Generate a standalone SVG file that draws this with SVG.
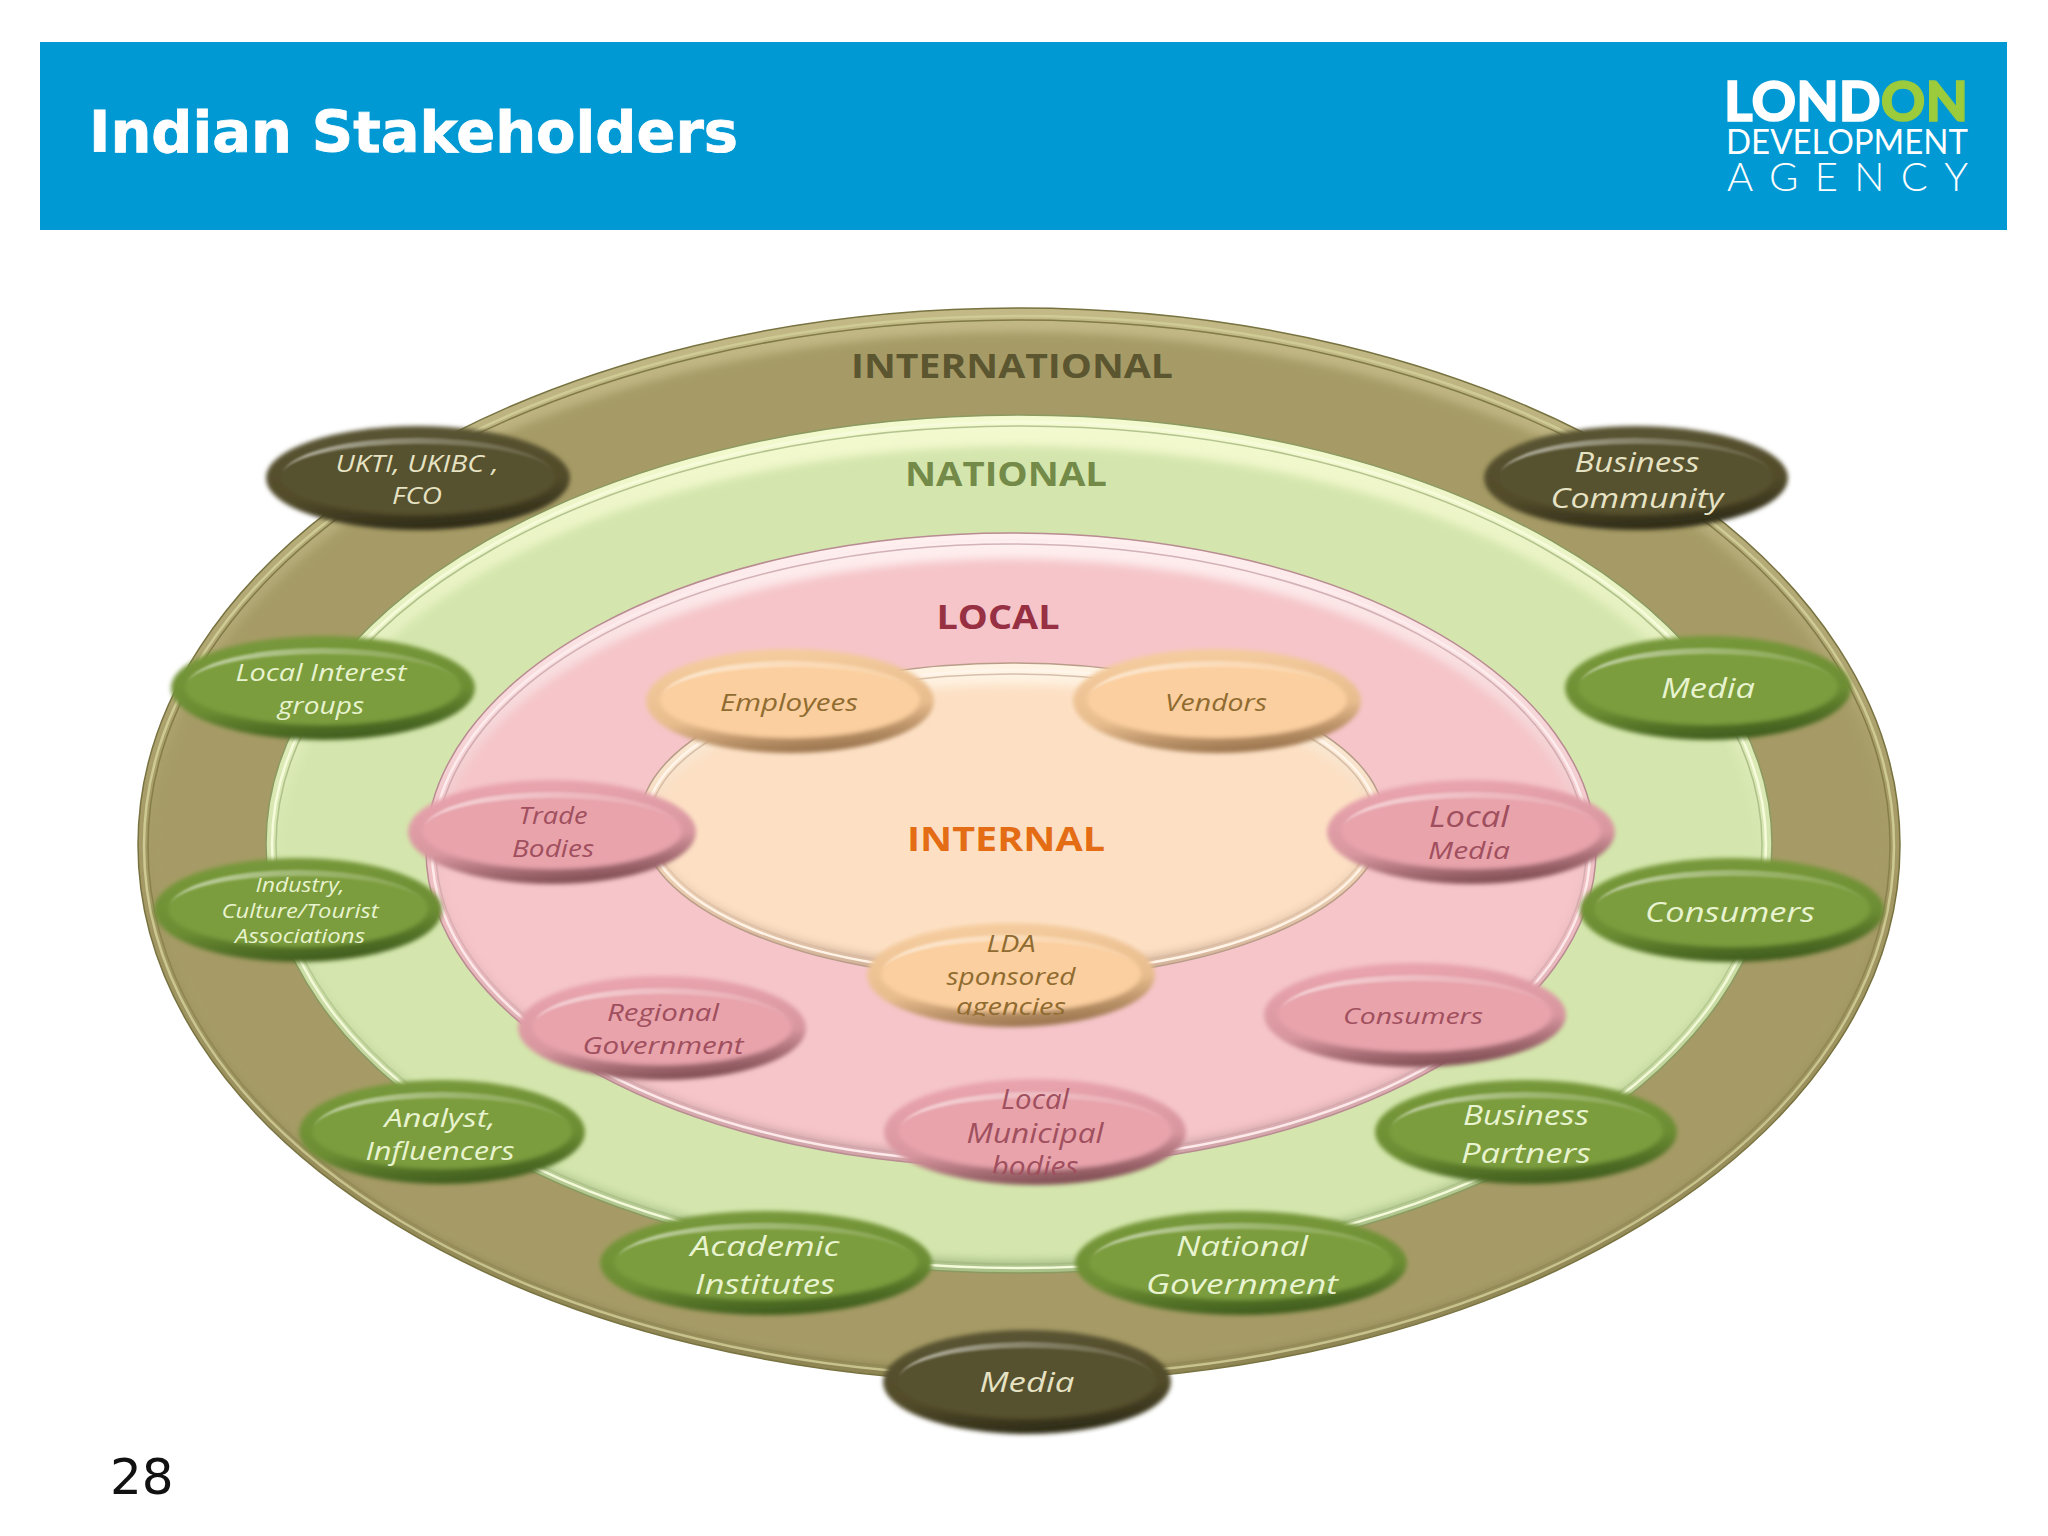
<svg xmlns="http://www.w3.org/2000/svg" width="2048" height="1536" viewBox="0 0 2048 1536">
<style>
.logo{font-family:"Lato","Liberation Sans",sans-serif;fill:#fff}
.ring{font-family:"Open Sans","Liberation Sans",sans-serif;font-weight:700;text-anchor:middle}
.n{font-family:"Open Sans","Lato",sans-serif;font-style:italic;text-anchor:middle}
.nd{fill:#e6e2c4}.ng{fill:#e8f3cf}.np{fill:#a04f5e}.no{fill:#8f6b30}
.fd{fill:#57512f}.fg{fill:#7b9d3e}.fp{fill:#e8a3ab}.fo{fill:#fbcf9f}
.rd{fill:url(#rimD)}.rg{fill:url(#rimG)}.rp{fill:url(#rimP)}.ro{fill:url(#rimO)}
.hl{fill:url(#hlW);filter:url(#soft1)}
.s{filter:url(#soft)}
.line{fill:none}
</style>
<defs>
<filter id="soft" x="-5%" y="-10%" width="110%" height="120%"><feGaussianBlur stdDeviation="2"/></filter>
<filter id="soft1" x="-5%" y="-30%" width="110%" height="160%"><feGaussianBlur stdDeviation="1"/></filter>
<filter id="softR" x="-3%" y="-5%" width="106%" height="110%"><feGaussianBlur stdDeviation="4"/></filter>
<linearGradient id="hlW" gradientUnits="userSpaceOnUse" x1="-130" y1="0" x2="130" y2="0"><stop offset="0" stop-color="#fff" stop-opacity=".55"/><stop offset=".5" stop-color="#fff" stop-opacity=".28"/><stop offset="1" stop-color="#fff" stop-opacity=".08"/></linearGradient>
<linearGradient id="rimD" x1=".35" y1="0" x2=".6" y2="1"><stop offset="0" stop-color="#5a5432"/><stop offset=".62" stop-color="#514b2a"/><stop offset="1" stop-color="#2c2916"/></linearGradient>
<linearGradient id="rimG" x1=".35" y1="0" x2=".6" y2="1"><stop offset="0" stop-color="#78993b"/><stop offset=".62" stop-color="#6c8d33"/><stop offset="1" stop-color="#3d5a1c"/></linearGradient>
<linearGradient id="rimP" x1=".35" y1="0" x2=".6" y2="1"><stop offset="0" stop-color="#eaa5af"/><stop offset=".62" stop-color="#d8969f"/><stop offset="1" stop-color="#7c4a50"/></linearGradient>
<linearGradient id="rimO" x1=".35" y1="0" x2=".6" y2="1"><stop offset="0" stop-color="#f6cd9f"/><stop offset=".62" stop-color="#e8bd8e"/><stop offset="1" stop-color="#96704a"/></linearGradient>
<linearGradient id="rI" x1="0" y1="0" x2="0" y2="1"><stop offset="0" stop-color="#c2b987"/><stop offset=".5" stop-color="#a69b66"/><stop offset="1" stop-color="#8d8453"/></linearGradient>
<linearGradient id="rN" x1="0" y1="0" x2="0" y2="1"><stop offset="0" stop-color="#f4facf"/><stop offset=".6" stop-color="#d0e2aa"/><stop offset="1" stop-color="#aac18a"/></linearGradient>
<linearGradient id="rL" x1="0" y1="0" x2="0" y2="1"><stop offset="0" stop-color="#fff0f0"/><stop offset=".6" stop-color="#edbcc0"/><stop offset="1" stop-color="#d0a4a8"/></linearGradient>
<linearGradient id="rT" x1="0" y1="0" x2="0" y2="1"><stop offset="0" stop-color="#fff4e4"/><stop offset=".6" stop-color="#f3d6b8"/><stop offset="1" stop-color="#d0b098"/></linearGradient>
<path id="hlp" d="M-128,-6 A129 39 0 0 1 128,-6 A129 32 0 0 0 -128,-6Z"/>
<clipPath id="clipLDA"><ellipse cx="0" cy="-2" rx="140" ry="44"/></clipPath>
<clipPath id="clipLMB"><ellipse cx="0" cy="-2" rx="147" ry="45"/></clipPath>
</defs>
<rect width="2048" height="1536" fill="#fff"/>
<g id="header">
<rect x="40" y="42" width="1967" height="188" fill="#0099d3"/>
<text x="89" y="152" font-family="'DejaVu Sans','Liberation Sans',sans-serif" font-weight="700" font-size="57" fill="#fff" stroke="#fff" stroke-width=".8" textLength="649" lengthAdjust="spacingAndGlyphs">Indian Stakeholders</text>
</g>
<g id="logo">
<text class="logo" x="1724" y="121" font-size="56" font-weight="900" stroke="#fff" stroke-width="1.4" textLength="244" lengthAdjust="spacingAndGlyphs">LOND<tspan style="fill:#9ccb3b;stroke:#9ccb3b">ON</tspan></text>
<text class="logo" x="1726" y="154" font-size="35" textLength="242" lengthAdjust="spacingAndGlyphs">DEVELOPMENT</text>
<text class="logo" x="1727" y="191" font-size="40" font-weight="300" textLength="241">AGENCY</text>
</g>
<g id="rings">
<g id="ring-international">
<ellipse cx="1019" cy="845" rx="881" ry="537" fill="url(#rI)" stroke="#77723f" stroke-width="1.5"/>
<ellipse class="line" cx="1019" cy="846" rx="875" ry="530" stroke="#cfcb95" stroke-width="2.5"/>
<ellipse class="line" cx="1019" cy="846" rx="871" ry="526" stroke="#807a46" stroke-width="1.5"/>
<ellipse cx="1019" cy="852" rx="867" ry="520" fill="#a69b66" filter="url(#softR)"/>
<text class="ring" x="1012" y="378" font-size="34" fill="#5b5530" textLength="322" lengthAdjust="spacingAndGlyphs">INTERNATIONAL</text>
</g>
<g id="ring-national">
<ellipse cx="1019" cy="844" rx="753" ry="429" fill="url(#rN)" stroke="#8b9a60" stroke-width="1.5"/>
<ellipse class="line" cx="1019" cy="845" rx="747" ry="423" stroke="#f6fbdc" stroke-width="2.5"/>
<ellipse class="line" cx="1019" cy="845" rx="743" ry="419" stroke="#9aad76" stroke-width="1.5" opacity=".7"/>
<ellipse cx="1019" cy="853" rx="738" ry="407" fill="#d4e6ad" filter="url(#softR)"/>
<text class="ring" x="1006" y="486" font-size="34" fill="#738a48" textLength="202" lengthAdjust="spacingAndGlyphs">NATIONAL</text>
</g>
<g id="ring-local">
<ellipse cx="1011" cy="850" rx="585" ry="317" fill="url(#rL)" stroke="#b98b92" stroke-width="1.5"/>
<ellipse class="line" cx="1011" cy="851" rx="579" ry="311" stroke="#fdeced" stroke-width="2.5"/>
<ellipse class="line" cx="1011" cy="851" rx="575" ry="307" stroke="#c09aa0" stroke-width="1.5" opacity=".7"/>
<ellipse cx="1011" cy="857" rx="571" ry="298" fill="#f5c5c9" filter="url(#softR)"/>
<text class="ring" x="998" y="629" font-size="34" fill="#963042" textLength="123" lengthAdjust="spacingAndGlyphs">LOCAL</text>
</g>
<g id="ring-internal">
<ellipse cx="1012" cy="821" rx="372" ry="158" fill="url(#rT)" stroke="#b99c88" stroke-width="1.5"/>
<ellipse class="line" cx="1012" cy="822" rx="366" ry="152" stroke="#fff5ea" stroke-width="2.5"/>
<ellipse class="line" cx="1012" cy="822" rx="362" ry="148" stroke="#c4aa96" stroke-width="1.5" opacity=".7"/>
<ellipse cx="1012" cy="826" rx="358" ry="141" fill="#fde0c4" filter="url(#softR)"/>
<text class="ring" x="1006" y="851" font-size="34" fill="#e36c14" textLength="198" lengthAdjust="spacingAndGlyphs">INTERNAL</text>
</g>
</g>
<g id="connectors"></g>
<g id="n-ukti" transform="translate(418,478)"><g class="s"><ellipse class="rd" rx="152" ry="52"/><ellipse class="fd" cy="-1" rx="138" ry="38"/></g><use href="#hlp" class="hl" transform="scale(1.06,1)"/>
<text class="n nd" x="-1" y="-6" font-size="23" textLength="163" lengthAdjust="spacingAndGlyphs">UKTI, UKIBC ,</text><text class="n nd" x="-1" y="26" font-size="23" textLength="50" lengthAdjust="spacingAndGlyphs">FCO</text></g>
<g id="n-business-community" transform="translate(1636,478)"><g class="s"><ellipse class="rd" rx="152" ry="52"/><ellipse class="fd" cy="-1" rx="138" ry="38"/></g><use href="#hlp" class="hl" transform="scale(1.06,1)"/>
<text class="n nd" x="1" y="-6" font-size="27" textLength="125" lengthAdjust="spacingAndGlyphs">Business</text><text class="n nd" x="1" y="30" font-size="27" textLength="173" lengthAdjust="spacingAndGlyphs">Community</text></g>
<g id="n-local-interest" transform="translate(323,688)"><g class="s"><ellipse class="rg" rx="152" ry="52"/><ellipse class="fg" cy="-1" rx="138" ry="38"/></g><use href="#hlp" class="hl" transform="scale(1.06,1)"/>
<text class="n ng" x="-2" y="-7" font-size="24" textLength="171" lengthAdjust="spacingAndGlyphs">Local Interest</text><text class="n ng" x="-2" y="26" font-size="24" textLength="86" lengthAdjust="spacingAndGlyphs">groups</text></g>
<g id="n-media-green" transform="translate(1708,688)"><g class="s"><ellipse class="rg" rx="143" ry="52"/><ellipse class="fg" cy="-1" rx="130" ry="38"/></g><use href="#hlp" class="hl"/>
<text class="n ng" x="0" y="10" font-size="28" textLength="94" lengthAdjust="spacingAndGlyphs">Media</text></g>
<g id="n-industry" transform="translate(298,910)"><g class="s"><ellipse class="rg" rx="144" ry="52"/><ellipse class="fg" cy="-1" rx="130" ry="38"/></g><use href="#hlp" class="hl"/>
<text class="n ng" x="2" y="-18" font-size="20" textLength="89" lengthAdjust="spacingAndGlyphs">Industry,</text><text class="n ng" x="2" y="8" font-size="20" textLength="157" lengthAdjust="spacingAndGlyphs">Culture/Tourist</text><text class="n ng" x="2" y="33" font-size="20" textLength="130" lengthAdjust="spacingAndGlyphs">Associations</text></g>
<g id="n-consumers-green" transform="translate(1732,910)"><g class="s"><ellipse class="rg" rx="152" ry="52"/><ellipse class="fg" cy="-1" rx="138" ry="38"/></g><use href="#hlp" class="hl" transform="scale(1.06,1)"/>
<text class="n ng" x="-2" y="12" font-size="27" textLength="170" lengthAdjust="spacingAndGlyphs">Consumers</text></g>
<g id="n-analyst" transform="translate(442,1132)"><g class="s"><ellipse class="rg" rx="143" ry="52"/><ellipse class="fg" cy="-1" rx="130" ry="38"/></g><use href="#hlp" class="hl"/>
<text class="n ng" x="-2" y="-5" font-size="25" textLength="111" lengthAdjust="spacingAndGlyphs">Analyst,</text><text class="n ng" x="-2" y="28" font-size="25" textLength="149" lengthAdjust="spacingAndGlyphs">Influencers</text></g>
<g id="n-business-partners" transform="translate(1526,1132)"><g class="s"><ellipse class="rg" rx="151" ry="52"/><ellipse class="fg" cy="-1" rx="137" ry="38"/></g><use href="#hlp" class="hl" transform="scale(1.05,1)"/>
<text class="n ng" x="0" y="-7" font-size="27" textLength="126" lengthAdjust="spacingAndGlyphs">Business</text><text class="n ng" x="0" y="31" font-size="27" textLength="130" lengthAdjust="spacingAndGlyphs">Partners</text></g>
<g id="n-academic" transform="translate(766,1263)"><g class="s"><ellipse class="rg" rx="166" ry="52"/><ellipse class="fg" cy="-1" rx="152" ry="38"/></g><use href="#hlp" class="hl" transform="scale(1.16,1)"/>
<text class="n ng" x="-1" y="-7" font-size="28" textLength="149" lengthAdjust="spacingAndGlyphs">Academic</text><text class="n ng" x="-1" y="31" font-size="28" textLength="140" lengthAdjust="spacingAndGlyphs">Institutes</text></g>
<g id="n-national-gov" transform="translate(1241,1263)"><g class="s"><ellipse class="rg" rx="166" ry="52"/><ellipse class="fg" cy="-1" rx="152" ry="38"/></g><use href="#hlp" class="hl" transform="scale(1.16,1)"/>
<text class="n ng" x="1" y="-7" font-size="28" textLength="132" lengthAdjust="spacingAndGlyphs">National</text><text class="n ng" x="1" y="31" font-size="28" textLength="192" lengthAdjust="spacingAndGlyphs">Government</text></g>
<g id="n-media-dark" transform="translate(1027,1382)"><g class="s"><ellipse class="rd" rx="144" ry="52"/><ellipse class="fd" cy="-1" rx="130" ry="38"/></g><use href="#hlp" class="hl"/>
<text class="n nd" x="0" y="10" font-size="27" textLength="95" lengthAdjust="spacingAndGlyphs">Media</text></g>
<g id="n-trade" transform="translate(552,832)"><g class="s"><ellipse class="rp" rx="144" ry="52"/><ellipse class="fp" cy="-1" rx="130" ry="38"/></g><use href="#hlp" class="hl"/>
<text class="n np" x="1" y="-8" font-size="24" textLength="69" lengthAdjust="spacingAndGlyphs">Trade</text><text class="n np" x="1" y="25" font-size="24" textLength="82" lengthAdjust="spacingAndGlyphs">Bodies</text></g>
<g id="n-local-media" transform="translate(1471,832)"><g class="s"><ellipse class="rp" rx="144" ry="52"/><ellipse class="fp" cy="-1" rx="130" ry="38"/></g><use href="#hlp" class="hl"/>
<text class="n np" x="-2" y="-5" font-size="29" textLength="80" lengthAdjust="spacingAndGlyphs">Local</text><text class="n np" x="-2" y="27" font-size="24" textLength="82" lengthAdjust="spacingAndGlyphs">Media</text></g>
<g id="n-employees" transform="translate(790,701)"><g class="s"><ellipse class="ro" rx="144" ry="52"/><ellipse class="fo" cy="-1" rx="130" ry="38"/></g><use href="#hlp" class="hl"/>
<text class="n no" x="-1" y="10" font-size="24" textLength="138" lengthAdjust="spacingAndGlyphs">Employees</text></g>
<g id="n-vendors" transform="translate(1217,701)"><g class="s"><ellipse class="ro" rx="144" ry="52"/><ellipse class="fo" cy="-1" rx="130" ry="38"/></g><use href="#hlp" class="hl"/>
<text class="n no" x="-1" y="10" font-size="24" textLength="102" lengthAdjust="spacingAndGlyphs">Vendors</text></g>
<g id="n-lda" transform="translate(1011,975)"><g class="s"><ellipse class="ro" rx="144" ry="52"/><ellipse class="fo" cy="-1" rx="130" ry="38"/></g><use href="#hlp" class="hl"/>
<g clip-path="url(#clipLDA)"><text class="n no" x="0" y="-23" font-size="24" textLength="49" lengthAdjust="spacingAndGlyphs">LDA</text><text class="n no" x="0" y="10" font-size="24" textLength="129" lengthAdjust="spacingAndGlyphs">sponsored</text><text class="n no" x="0" y="40" font-size="24" textLength="110" lengthAdjust="spacingAndGlyphs">agencies</text></g></g>
<g id="n-regional" transform="translate(662,1028)"><g class="s"><ellipse class="rp" rx="144" ry="52"/><ellipse class="fp" cy="-1" rx="130" ry="38"/></g><use href="#hlp" class="hl"/>
<text class="n np" x="1" y="-7" font-size="24" textLength="112" lengthAdjust="spacingAndGlyphs">Regional</text><text class="n np" x="1" y="26" font-size="24" textLength="161" lengthAdjust="spacingAndGlyphs">Government</text></g>
<g id="n-consumers-pink" transform="translate(1415,1015)"><g class="s"><ellipse class="rp" rx="151" ry="52"/><ellipse class="fp" cy="-1" rx="137" ry="38"/></g><use href="#hlp" class="hl" transform="scale(1.05,1)"/>
<text class="n np" x="-2" y="9" font-size="22" textLength="140" lengthAdjust="spacingAndGlyphs">Consumers</text></g>
<g id="n-local-municipal" transform="translate(1035,1132)"><g class="s"><ellipse class="rp" rx="151" ry="53"/><ellipse class="fp" cy="-1" rx="137" ry="39"/></g><use href="#hlp" class="hl" transform="scale(1.05,1)"/>
<g clip-path="url(#clipLMB)"><text class="n np" x="0" y="-23" font-size="27" textLength="68" lengthAdjust="spacingAndGlyphs">Local</text><text class="n np" x="0" y="11" font-size="27" textLength="137" lengthAdjust="spacingAndGlyphs">Municipal</text><text class="n np" x="0" y="44" font-size="27" textLength="87" lengthAdjust="spacingAndGlyphs">bodies</text></g></g>
<text id="page-number" x="110" y="1494" font-family="'DejaVu Sans','Liberation Sans',sans-serif" font-size="50" fill="#111">28</text>
</svg>
